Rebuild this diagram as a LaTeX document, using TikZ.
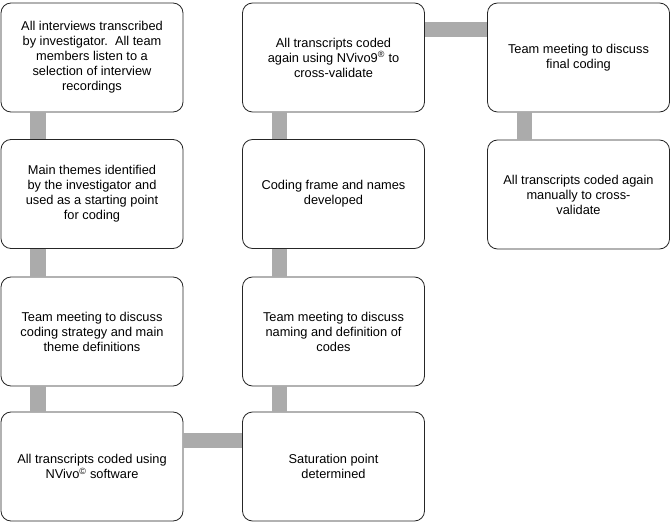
\documentclass[tikz,border=0pt]{standalone}
\usepackage{fontspec}
\setmainfont{Liberation Sans}
\tikzset{
	stage/.style={draw=black!85, line width=0.8bp, fill=white, rounded corners=10bp,
			minimum width=182bp, minimum height=109bp, inner sep=0pt, align=center,
			font=\fontsize{12.8bp}{15bp}\selectfont},
	link/.style={draw=black!33, line width=15bp}
}
\begin{document}
\begin{tikzpicture}[x=1bp,y=-1bp]
					      \useasboundingbox (0,0) rectangle (670,523);
					      \node[stage] (transcribe) at (92,57.5) {All interviews transcribed\\by investigator.\ \ All team\\members listen to a\\selection of interview\\recordings};
					      \node[stage] (themes) at (92,194) {Main themes identified\\by the investigator and\\used as a starting point\\for coding};
					      \node[stage] (strategy) at (92,331.5) {Team meeting to discuss\\coding strategy and main\\theme definitions};
					      \node[stage] (nvivo) at (92,466.5) {All transcripts coded using\\NVivo\textsuperscript{\textcopyright} software};
					      \node[stage] (saturation) at (333.5,466.5) {Saturation point\\determined};
					      \node[stage] (naming) at (333.5,331.5) {Team meeting to discuss\\naming and definition of\\codes};
					      \node[stage] (frame) at (333.5,194) {Coding frame and names\\developed};
					      \node[stage] (recode) at (333.5,57.5) {All transcripts coded\\again using NVivo9\textsuperscript{\textregistered} to\\cross-validate};
					      \node[stage] (final) at (578.5,57.5) {Team meeting to discuss\\final coding};
					      \node[stage] (manual) at (578.5,194.5) {All transcripts coded again\\manually to cross-\\validate};
					      \foreach \a/\b in {transcribe/themes,themes/strategy,strategy/nvivo,
							      naming/saturation,frame/naming,recode/frame,final/manual}{
							      \draw[link] ([xshift=-54bp]\a.south) -- ([xshift=-54bp]\b.north);
						      }
					      \draw[link] ([yshift=26.5bp]nvivo.east) -- ([yshift=26.5bp]saturation.west);
					      \draw[link] ([yshift=27.5bp]recode.east) -- ([yshift=27.5bp]final.west);
				      \end{tikzpicture}
\end{document}
